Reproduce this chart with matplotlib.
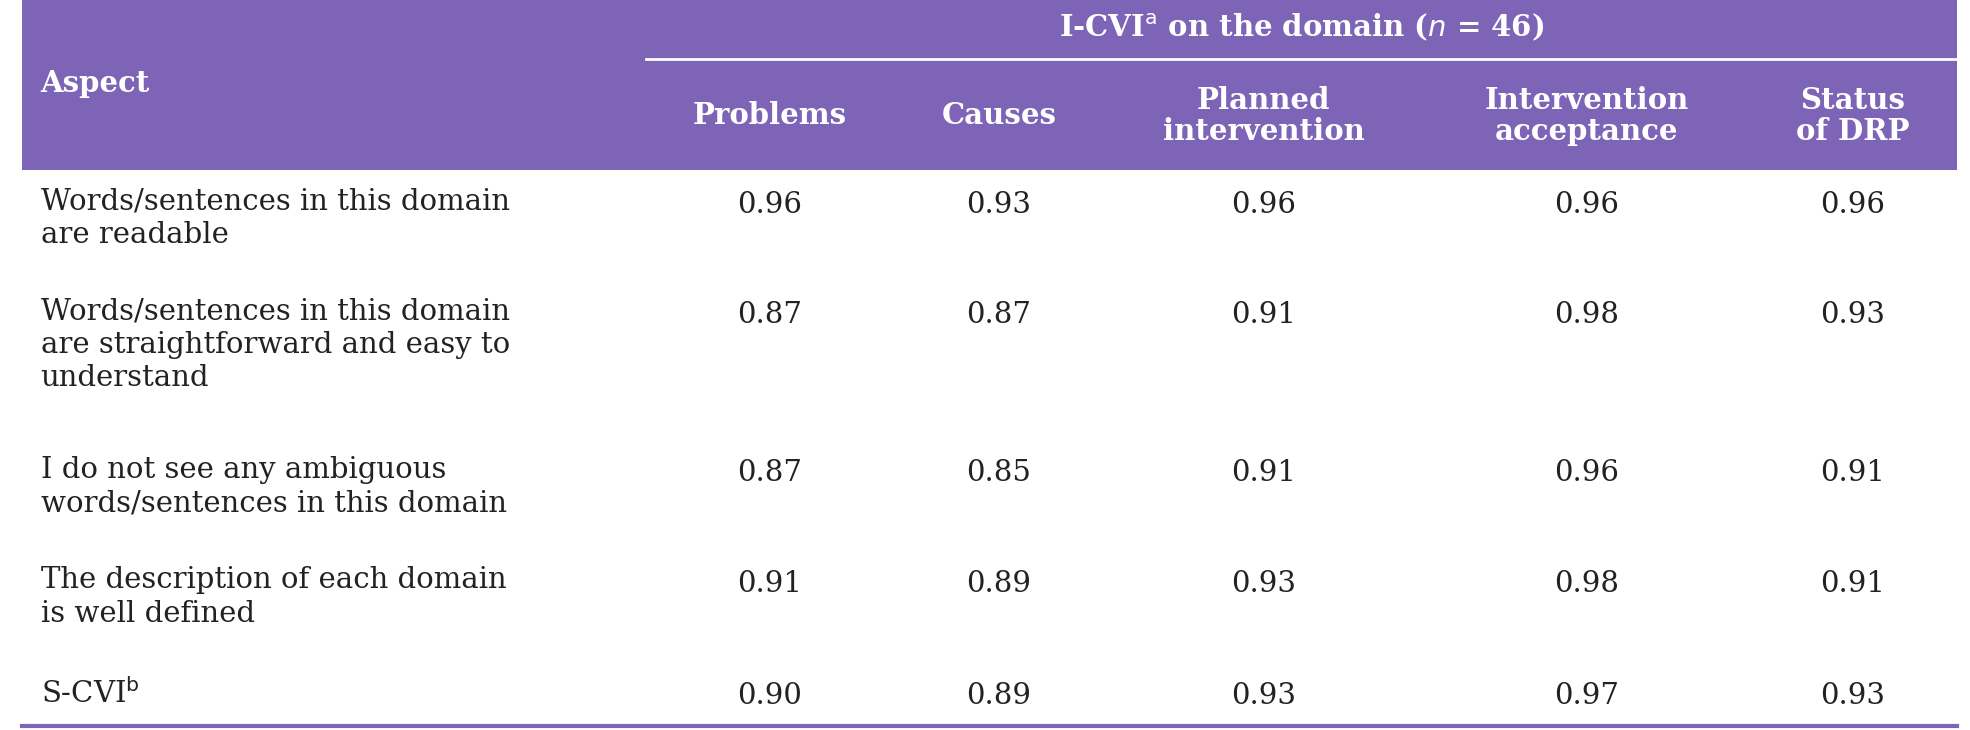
import matplotlib.pyplot as plt
from matplotlib.patches import Rectangle

aspects = ['Words/sentences in this domain\nare readable',
           'Words/sentences in this domain\nare straightforward and easy to\nunderstand',
           'I do not see any ambiguous\nwords/sentences in this domain',
           'The description of each domain\nis well defined',
           'S-CVI$^{\\mathrm{b}}$']
columns = ['Problems', 'Causes', 'Planned\nintervention', 'Intervention\nacceptance', 'Status\nof DRP']
problems = [0.96, 0.87, 0.87, 0.91, 0.90]
causes = [0.93, 0.87, 0.85, 0.89, 0.89]
planned = [0.96, 0.91, 0.91, 0.93, 0.93]
acceptance = [0.96, 0.98, 0.96, 0.98, 0.97]
status = [0.96, 0.93, 0.91, 0.91, 0.93]

W, H = 1548, 580  # layout measured in reference pixel units
purple = '#7d64b6'
col_x = [605, 785, 993, 1247, 1456]
row_y = [163, 250, 376, 464, 553]

fig = plt.figure(figsize=(19.7, 7.3), dpi=100)
ax = fig.add_axes([0, 0, 1, 1])
ax.set_xlim(0, W)
ax.set_ylim(H, 0)
ax.axis('off')
fs = 21
font = 'DejaVu Serif'

ax.add_patch(Rectangle((17, 0), 1521, 135, color=purple, lw=0))
ax.plot([508, 1538], [47, 47], color='white', lw=2)
ax.plot([17, 1538], [577, 577], color=purple, lw=3)

ax.text(1023, 22, 'I-CVI$^{\\mathrm{a}}$ on the domain ($n$ = 46)', ha='center', va='center',
        color='white', fontsize=fs, fontweight='bold', family=font)
ax.text(32, 66, 'Aspect', ha='left', va='center', color='white', fontsize=fs,
        fontweight='bold', family=font)
for x, c in zip(col_x, columns):
    ax.text(x, 92, c, ha='center', va='center', color='white', fontsize=fs,
            fontweight='bold', family=font, linespacing=1.1)

values = [problems, causes, planned, acceptance, status]
for i, (y, a) in enumerate(zip(row_y, aspects)):
    ax.text(32, y - 14, a, ha='left', va='top', fontsize=fs, family=font,
            color='#222222', linespacing=1.25)
    for x, col in zip(col_x, values):
        ax.text(x, y, f'{col[i]:.2f}', ha='center', va='center', fontsize=fs,
                family=font, color='#222222')

fig.savefig('out.png', dpi=100)
